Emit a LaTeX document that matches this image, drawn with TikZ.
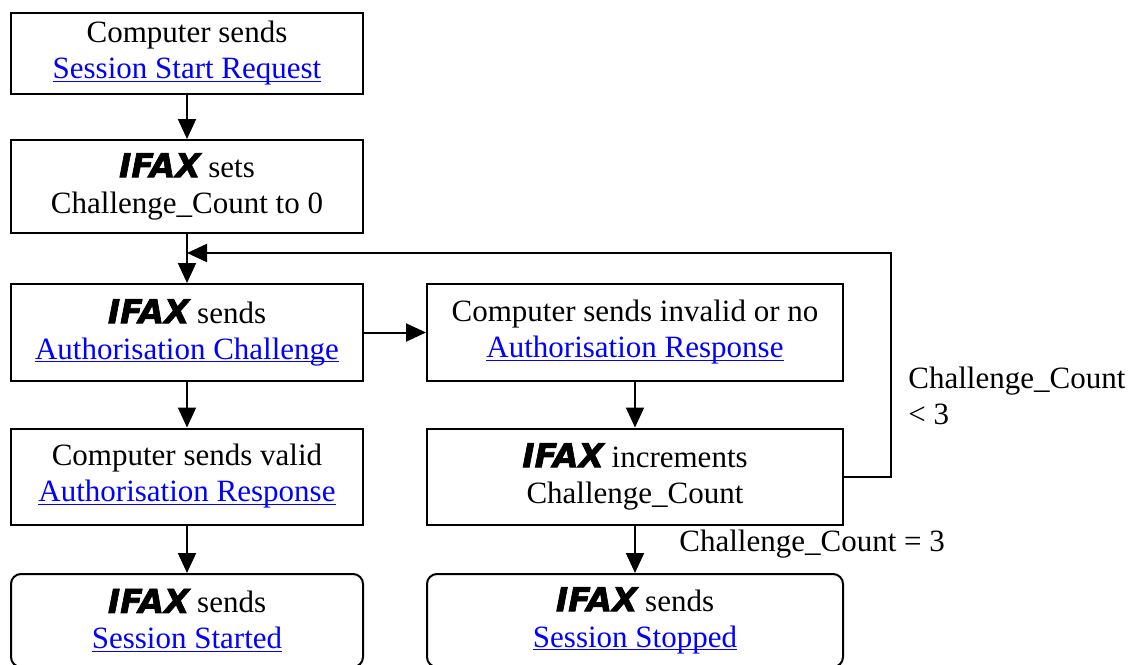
\documentclass[tikz,border=0pt]{standalone}
\usepackage{fontspec}
\setmainfont{Liberation Serif}
\newfontfamily\ifaxfont{DejaVu Sans}[BoldItalicFeatures={FakeBold=2}]
\usetikzlibrary{arrows.meta}
\definecolor{linkblue}{RGB}{0,0,255}
\newcommand{\ifax}{{\ifaxfont\fontsize{16.5}{18}\selectfont\bfseries\itshape IFAX}}
\newcommand{\linktext}[1]{\textcolor{linkblue}{\setbox0\hbox{#1}\rlap{\rule[-1.6pt]{\wd0}{0.7pt}}\box0}}

\begin{document}
\begin{tikzpicture}[x=0.5pt,y=-0.5pt,
    box/.style={draw,line width=1pt,inner sep=0pt,align=center,minimum width=176pt,font=\fontsize{15.5}{18}\selectfont},
    endbox/.style={box,rounded corners=5pt},
    flow/.style={line width=1pt,-{Triangle[length=10pt,width=9pt]}},
    cond/.style={inner sep=0pt,align=left,font=\fontsize{15.5}{18}\selectfont}]
        \useasboundingbox (0,0) rectangle (1140,664);
        % left column
        \node[box,minimum height=40.5pt] (sendreq) at (187,53.5) {Computer sends\\\linktext{Session Start Request}};
        \node[box,minimum height=46.5pt] (setcount) at (187,186.5) {\ifax{} sets\\Challenge\_Count to 0};
        \node[box,minimum height=48.5pt] (challenge) at (187,332.5) {\ifax{} sends\\\linktext{Authorisation Challenge}};
        \node[box,minimum height=48pt] (valid) at (187,476.5) {Computer sends valid\\\linktext{Authorisation Response}};
        \node[endbox,minimum height=46.5pt] (started) at (187,620.5) {\ifax{} sends\\\linktext{Session Started}};
        % right column
        \node[box,minimum width=208pt,minimum height=48.5pt] (invalid) at (635,332.5) {Computer sends invalid or no\\\linktext{Authorisation Response}};
        \node[box,minimum width=208pt,minimum height=48pt] (increment) at (635,476.5) {\ifax{} increments\\Challenge\_Count};
        \node[endbox,minimum width=208pt,minimum height=46.5pt] (stopped) at (635,620.5) {\ifax{} sends\\\linktext{Session Stopped}};
        \coordinate (loopcorner) at (891,253);
        \draw[flow](sendreq)--(setcount);
        \draw[flow](setcount)--(challenge);
        \draw[flow](challenge)--(valid);
        \draw[flow](valid)--(started);
        \draw[flow](challenge)--(invalid);
        \draw[flow](invalid)--(increment);
        \draw[flow](increment)--(stopped);
        \draw[flow](increment.east)-|(loopcorner)--(setcount.south |- loopcorner);
        \node[cond,anchor=north west] (lessthree) at (908,367) {Challenge\_Count\\< 3};
        \node[cond,anchor=west] (equalthree) at (679,544) {Challenge\_Count = 3};
    \end{tikzpicture}
\end{document}
